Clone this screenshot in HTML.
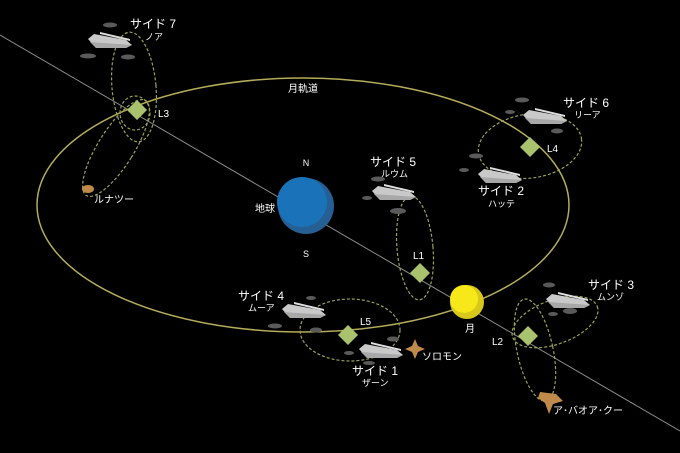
<!DOCTYPE html>
<html><head><meta charset="utf-8"><style>
html,body{margin:0;padding:0;background:#000;}
svg{display:block}
text{font-family:"Liberation Sans","Noto Sans CJK JP",sans-serif;fill:#fff}
</style></head><body>
<svg width="680" height="453" viewBox="0 0 680 453" xmlns="http://www.w3.org/2000/svg">
<defs>
<g id="ship">
<polygon points="0,7 6,2 38,8 44,13 38,16 8,16" fill="#c9c9c9"/>
<polygon points="2,10 44,13 38,16 8,16" fill="#a8a8a8"/>
<polygon points="12,0 42,7 42,9 12,2" fill="#dedede"/>
</g>
</defs>
<rect width="680" height="453" fill="#000"/>
<!-- ecliptic line -->
<line x1="0" y1="35" x2="680" y2="431" stroke="#8a8a8a" stroke-width="1"/>
<!-- moon orbit -->
<ellipse cx="303" cy="205" rx="266" ry="127" fill="none" stroke="#b4ac5a" stroke-width="1.5"/>
<text x="303" y="92" font-size="10" text-anchor="middle">月軌道</text>

<!-- dashed orbits -->
<g fill="none" stroke="#9aa356" stroke-width="1.2" stroke-dasharray="3,2">
<ellipse cx="134" cy="87" rx="22" ry="55" transform="rotate(-5 134 87)"/>
<ellipse cx="135" cy="113" rx="15" ry="17"/>
<ellipse cx="116" cy="148" rx="18" ry="56" transform="rotate(32 116 148)"/>
<ellipse cx="530" cy="146" rx="52" ry="32" transform="rotate(-8 530 146)"/>
<ellipse cx="415" cy="248" rx="18" ry="52" transform="rotate(-5 415 248)"/>
<ellipse cx="350" cy="330" rx="50" ry="31"/>
<ellipse cx="555" cy="322" rx="45" ry="22" transform="rotate(-20 555 322)"/>
<ellipse cx="535" cy="350" rx="18" ry="52" transform="rotate(-12 535 350)"/>
</g>

<!-- Earth -->
<circle cx="306" cy="206" r="28" fill="#255f93"/>
<circle cx="302" cy="202" r="25" fill="#1a72b8"/>
<text x="306" y="166" font-size="9" text-anchor="middle">N</text>
<text x="306" y="257" font-size="9" text-anchor="middle">S</text>
<text x="265" y="212" font-size="10" text-anchor="middle">地球</text>
<!-- Moon -->
<circle cx="467" cy="302" r="17" fill="#d8c81a"/>
<circle cx="464" cy="299" r="14" fill="#f7e81a"/>
<text x="470" y="332" font-size="10" text-anchor="middle">月</text>

<!-- L points -->
<g fill="#a9c26e">
<polygon points="137,100 147,110 137,120 127,110"/>
<polygon points="530,137 540,147 530,157 520,147"/>
<polygon points="420,263 430,273 420,283 410,273"/>
<polygon points="348,325 358,335 348,345 338,335"/>
<polygon points="528,326 538,336 528,346 518,336"/>
</g>
<g font-size="10">
<text x="158" y="117">L3</text>
<text x="547" y="152">L4</text>
<text x="413" y="259">L1</text>
<text x="360" y="325">L5</text>
<text x="492" y="345">L2</text>
</g>

<!-- small debris -->
<g fill="#5a5a5a">
<ellipse cx="110" cy="25" rx="7" ry="2.5"/><ellipse cx="88" cy="56" rx="8" ry="2.5"/><ellipse cx="128" cy="57" rx="7" ry="2.5"/>
<ellipse cx="522" cy="100" rx="7" ry="2.5"/><ellipse cx="510" cy="112" rx="5" ry="2"/><ellipse cx="557" cy="131" rx="6" ry="2.5"/>
<ellipse cx="476" cy="156" rx="7" ry="2.5"/><ellipse cx="464" cy="170" rx="5" ry="2"/>
<ellipse cx="378" cy="179" rx="7" ry="2.5"/><ellipse cx="367" cy="198" rx="5" ry="2"/><ellipse cx="398" cy="211" rx="8" ry="3"/>
<ellipse cx="311" cy="298" rx="5" ry="2"/><ellipse cx="275" cy="326" rx="7" ry="2.5"/><ellipse cx="316" cy="330" rx="6" ry="2.5"/>
<ellipse cx="393" cy="339" rx="6" ry="2.5"/><ellipse cx="349" cy="353" rx="5" ry="2"/><ellipse cx="369" cy="363" rx="6" ry="2"/>
<ellipse cx="549" cy="285" rx="6" ry="2.5"/><ellipse cx="553" cy="314" rx="5" ry="2"/><ellipse cx="570" cy="311" rx="7" ry="3"/>
</g>
<!-- ships -->
<use href="#ship" x="88" y="32"/>
<use href="#ship" x="523" y="108"/>
<use href="#ship" x="478" y="167"/>
<use href="#ship" x="372" y="184"/>
<use href="#ship" x="282" y="302"/>
<use href="#ship" x="359" y="342"/>
<use href="#ship" x="546" y="292"/>

<!-- asteroids -->
<ellipse cx="88" cy="189" rx="6" ry="4" fill="#c08a4a"/>
<polygon points="415,339 418,346 425,349 418,352 415,359 412,352 405,349 412,346" fill="#c08a4a"/>
<polygon points="540,392 556,394 563,401 553,404 549,414 545,403 538,398" fill="#c08a4a"/>

<!-- labels -->
<g font-size="12">
<text x="130" y="28">サイド 7</text>
<text x="563" y="107">サイド 6</text>
<text x="478" y="195">サイド 2</text>
<text x="370" y="166">サイド 5</text>
<text x="238" y="300">サイド 4</text>
<text x="352" y="375">サイド 1</text>
<text x="588" y="289">サイド 3</text>
</g>
<g font-size="9">
<text x="145" y="40">ノア</text>
<text x="574" y="118">リーア</text>
<text x="488" y="207">ハッテ</text>
<text x="381" y="177">ルウム</text>
<text x="248" y="311">ムーア</text>
<text x="362" y="386">ザーン</text>
<text x="597" y="300">ムンゾ</text>
<text x="94" y="203" font-size="10">ルナツー</text>
<text x="422" y="360" font-size="10">ソロモン</text>
<text x="553" y="414" font-size="10">ア･バオア･クー</text>
</g>
</svg>
</body></html>
